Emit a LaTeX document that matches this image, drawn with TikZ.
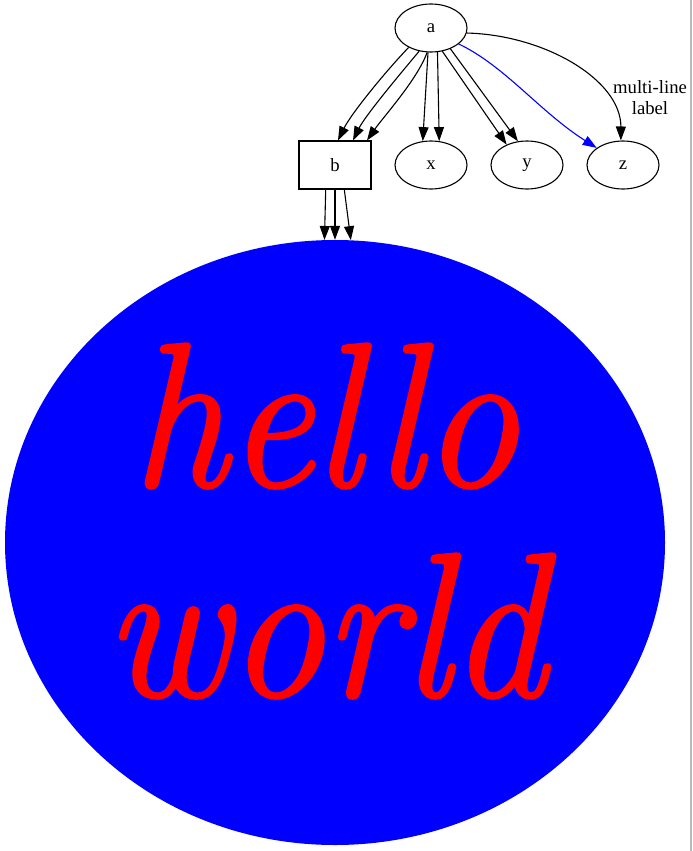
\documentclass[tikz,border=0pt]{standalone}
\usepackage{fontspec}
\newfontfamily\gvfont{Liberation Serif}
\newfontfamily\hwfont{lmroman12-italic.otf}[FakeBold=1.6]
\usetikzlibrary{shapes.geometric,arrows.meta}
\begin{document}
\begin{tikzpicture}[x=1pt,y=-1pt,
  gvnode/.style={draw,line width=1.1pt,ellipse,minimum width=72pt,minimum height=48pt,inner sep=0pt,font=\gvfont\fontsize{18.7}{22}\selectfont},
  gvbox/.style={gvnode,rectangle},
  gvedge/.style={line width=1.1pt,-{Triangle[length=14pt,width=10pt]}},
  gvlabel/.style={align=center,font=\gvfont\fontsize{18.7}{21}\selectfont},
  bigoval/.style={ellipse,fill=blue,minimum width=660pt,minimum height=605pt,inner sep=0pt},
  bigtext/.style={align=center,text=red,xscale=0.93,font=\hwfont\fontsize{205}{210}\selectfont}]
\useasboundingbox (0,0) rectangle (693,851);
%nodes
\node[gvnode] (a) at (431,28) {a};
\node[gvbox] (b) at (335,165) {b};
\node[gvnode] (x) at (431,165) {x};
\node[gvnode] (y) at (527,165) {y};
\node[gvnode] (z) at (623,165) {z};
\node[bigoval] (hw) at (335,542.5) {};
\node[bigtext] (hwtext) at (325,521) {hello\\world};
%a to b
\draw[gvedge] (a.221) .. controls (385,72) and (351,114) .. ([xshift=3pt]b.north);
\draw[gvedge] (a.243) .. controls (400,74) and (365,116) .. ([xshift=18pt]b.north);
\draw[gvedge] (a.261) .. controls (417,80) and (384,116) .. ([xshift=32pt]b.north);
%a to x, y
\draw[gvedge] (a.263) -- (x.109);
\draw[gvedge] (a.285) -- (x.71);
\draw[gvedge] (a.296) -- (y.135);
\draw[gvedge] (a.313) -- (y.111);
%a to z
\draw[gvedge,color=blue] (a.330) .. controls (505,66) and (540,112) .. (z.147);
\draw[gvedge] (a.352) .. controls (545,35) and (621,80) .. (z.95);
\node[gvlabel] (zlabel) at (650,98) {multi-line\\label};
%b to hello world
\draw[gvedge] ([xshift=-9.3pt]b.south) -- (hw.92.65);
\draw[gvedge] (b.south) -- (hw.90);
\draw[gvedge] ([xshift=9.3pt]b.south) -- (hw.87.35);
%page edge
\draw[color=gray!55,line width=1.5pt] (691,0) -- (691,851);
\end{tikzpicture}
\end{document}
